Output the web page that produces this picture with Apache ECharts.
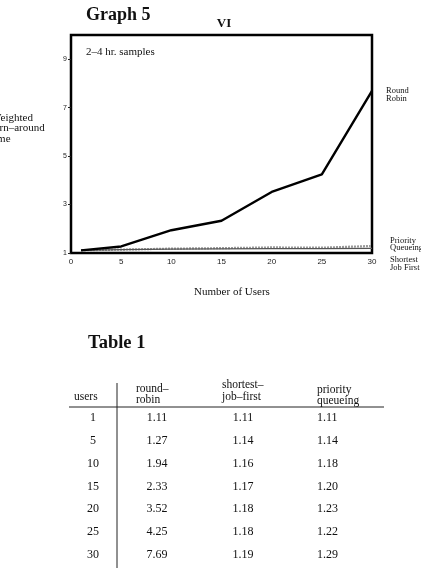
<!DOCTYPE html>
<html>
<head>
<meta charset="utf-8">
<script src="https://cdn.jsdelivr.net/npm/echarts@6/dist/echarts.min.js"></script>
<style>html,body{margin:0;padding:0;background:#fff}#c{width:421px;height:570px}</style>
</head>
<body>
<div id="c"></div>
<script>
const users = [1, 5, 10, 15, 20, 25, 30];
const roundRobin = [1.11, 1.27, 1.94, 2.33, 3.52, 4.25, 7.69];
const shortestJobFirst = [1.11, 1.14, 1.16, 1.17, 1.18, 1.18, 1.19];
const priorityQueueing = [1.11, 1.14, 1.18, 1.20, 1.23, 1.22, 1.29];
const xTicks = [0, 5, 10, 15, 20, 25, 30];
const yTicks = [1, 3, 5, 7, 9];
const tableHeaders = [['users'], ['round–', 'robin'], ['shortest–', 'job–first'], ['priority', 'queueing']];

const SERIF = '"Liberation Serif","DejaVu Serif",serif';
const SANS = '"Liberation Sans","DejaVu Sans",sans-serif';

const chart = echarts.init(document.getElementById('c'), null, {renderer: 'canvas'});

const graphic = [];
function txt(text, x, y, font, align, valign, extra) {
  graphic.push({type: 'text', silent: true, style: Object.assign({text: text, x: x, y: y, font: font, fill: '#111', textAlign: align || 'left', textVerticalAlign: valign || 'middle'}, extra || {})});
}
// titles
txt('Graph 5', 86, 15, 'bold 18px ' + SERIF);
txt('VI', 224, 24, 'bold 13px ' + SERIF, 'center');
txt('2–4 hr. samples', 86, 52, '11px ' + SERIF);
txt('Weighted\nturn–around\ntime', -9, 128.5, '11px ' + SERIF, 'left', 'middle', {lineHeight: 10.5});
txt('Number of Users', 232, 292, '11px ' + SERIF, 'center');
txt('Round\nRobin', 386, 95, '8.5px ' + SERIF, 'left', 'middle', {lineHeight: 8});
txt('Priority\nQueueing', 390, 244.5, '8.5px ' + SERIF, 'left', 'middle', {lineHeight: 7.5});
txt('Shortest\nJob First', 390, 264, '8.5px ' + SERIF, 'left', 'middle', {lineHeight: 7.5});

// table
txt('Table 1', 88, 343.5, 'bold 18.5px ' + SERIF);
const colX = [93, 157, 243, 317];
const colAlign = ['center', 'center', 'center', 'left'];
const headerX = [74, 136, 222, 317];
const headerY = [[397], [389, 400], [385, 397], [390, 401]];
tableHeaders.forEach((h, c) => {
  h.forEach((line, k) => {
    txt(line, headerX[c], headerY[c][k], '11.5px ' + SERIF, 'left');
  });
});
const rowY0 = 418, rowStep = 22.8;
const cols = [users.map(String), roundRobin.map(v => v.toFixed(2)), shortestJobFirst.map(v => v.toFixed(2)), priorityQueueing.map(v => v.toFixed(2))];
cols.forEach((col, c) => {
  col.forEach((s, i) => {
    txt(s, colX[c], rowY0 + i * rowStep, '12px ' + SERIF, colAlign[c]);
  });
});
graphic.push({type: 'line', silent: true, shape: {x1: 69, y1: 407, x2: 384, y2: 407}, style: {stroke: '#222', lineWidth: 1}});
graphic.push({type: 'line', silent: true, shape: {x1: 117, y1: 383, x2: 117, y2: 568}, style: {stroke: '#222', lineWidth: 1}});

chart.setOption({
  animation: false,
  backgroundColor: '#fff',
  grid: {left: 71, right: 49, top: 35, bottom: 317, show: true, borderColor: '#000', borderWidth: 2.5, containLabel: false},
  xAxis: {
    type: 'value', min: 0, max: 30, interval: 5,
    axisLine: {show: false}, axisTick: {show: false}, splitLine: {show: false},
    axisLabel: {fontFamily: SANS, fontSize: 8, color: '#222', margin: 5}
  },
  yAxis: {
    type: 'value', min: 1, max: 10, interval: 2,
    axisLine: {show: false}, splitLine: {show: false},
    axisTick: {show: true, length: 3, lineStyle: {color: '#222', width: 1}},
    axisLabel: {fontFamily: SANS, fontSize: 7, color: '#222', margin: 4, showMaxLabel: false,
      formatter: v => (yTicks.indexOf(v) >= 0 ? String(v) : '')}
  },
  series: [
    {name: 'Priority Queueing', type: 'line', symbol: 'none', z: 3,
     data: users.map((u, i) => [u, priorityQueueing[i]]),
     lineStyle: {color: '#9a9a9a', width: 2.2, type: [2, 1]}},
    {name: 'Shortest Job First', type: 'line', symbol: 'none', z: 3,
     data: users.map((u, i) => [u, shortestJobFirst[i]]),
     lineStyle: {color: '#555', width: 1.2}},
    {name: 'Round Robin', type: 'line', symbol: 'none', z: 4,
     data: users.map((u, i) => [u, roundRobin[i]]),
     lineStyle: {color: '#000', width: 2.4}}
  ],
  graphic: graphic
});
</script>
</body>
</html>
